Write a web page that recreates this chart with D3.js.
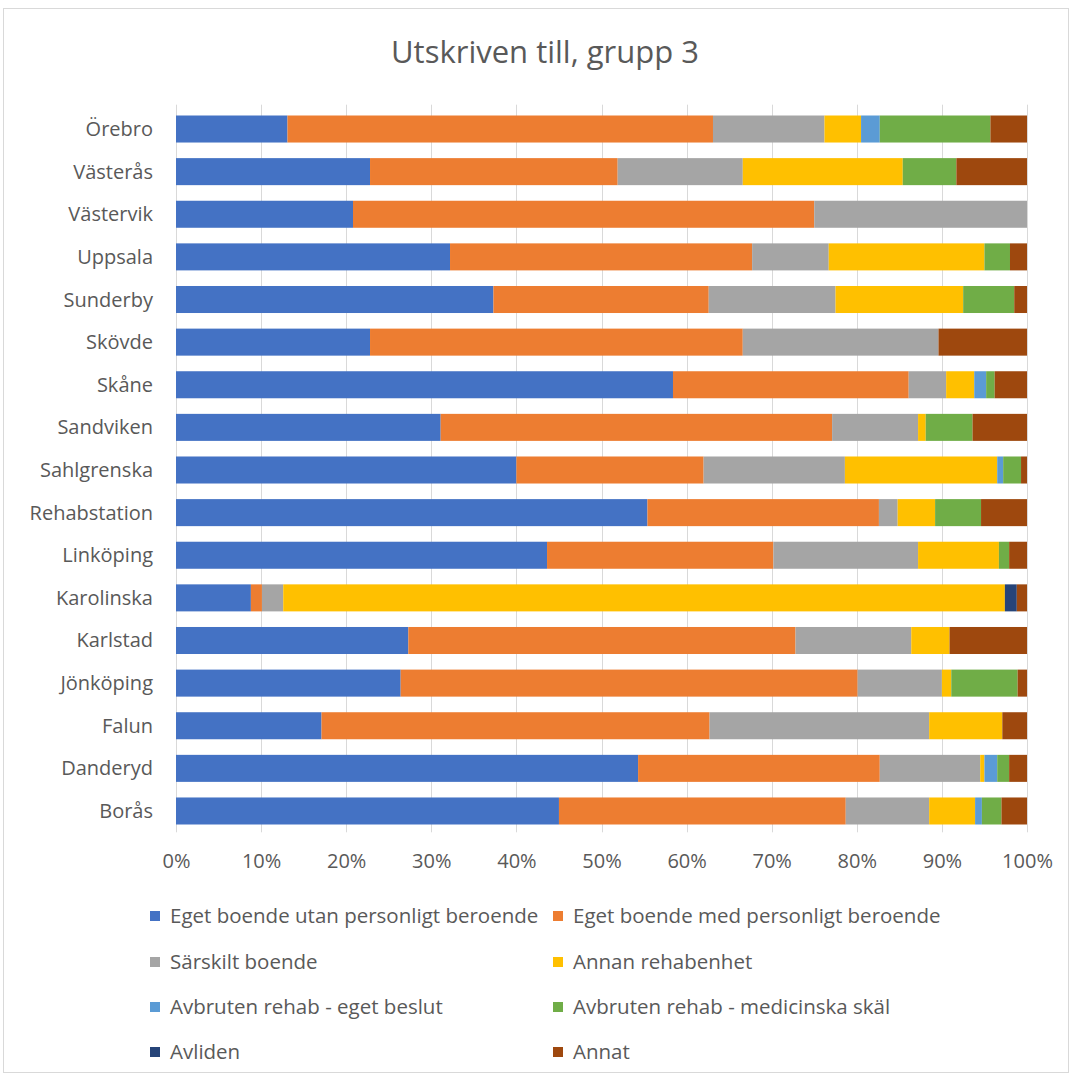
<!DOCTYPE html>
<html><head><meta charset="utf-8">
<script src="https://cdn.jsdelivr.net/npm/d3@7"></script>
<style>body{margin:0;background:#fff}svg{display:block}text{font-family:"Open Sans",sans-serif;fill:#595959}</style>
</head><body><svg id="c" width="1072" height="1079"></svg>
<script>
const categories = ["Örebro","Västerås","Västervik","Uppsala","Sunderby","Skövde","Skåne","Sandviken","Sahlgrenska","Rehabstation","Linköping","Karolinska","Karlstad","Jönköping","Falun","Danderyd","Borås"];
const seriesNames = ["Eget boende utan personligt beroende","Eget boende med personligt beroende","Särskilt boende","Annan rehabenhet","Avbruten rehab - eget beslut","Avbruten rehab - medicinska skäl","Avliden","Annat"];
const egetUtan   = [13.1,22.8,20.8,32.2,37.3,22.8,58.4,31.1,40.0,55.4,43.6,8.8,27.3,26.4,17.1,54.3,45.0];
const egetMed    = [50.0,29.1,54.2,35.5,25.3,43.8,27.7,46.0,22.0,27.2,26.6,1.3,45.5,53.7,45.6,28.4,33.7];
const sarskilt   = [13.1,14.7,25.0,9.0,14.9,23.0,4.4,10.1,16.6,2.2,17.0,2.5,13.6,9.9,25.8,11.8,9.8];
const annanRehab = [4.3,18.8,0,18.3,15.0,0,3.3,0.9,17.9,4.4,9.5,84.8,4.5,1.1,8.6,0.5,5.4];
const avbrEget   = [2.2,0,0,0,0,0,1.4,0,0.7,0,0,0,0,0,0,1.5,0.8];
const avbrMed    = [13.0,6.3,0,3.0,6.0,0,1.0,5.5,2.1,5.4,1.2,0,0,7.8,0,1.4,2.3];
const avliden    = [0,0,0,0,0,0,0,0,0,0,0,1.4,0,0,0,0,0];
const annat      = [4.3,8.3,0,2.0,1.5,10.4,3.8,6.4,0.7,5.4,2.1,1.2,9.1,1.1,2.9,2.1,3.0];
const tickLabels = ["0%","10%","20%","30%","40%","50%","60%","70%","80%","90%","100%"];
const colors = ["#4472C4","#ED7D31","#A5A5A5","#FFC000","#5B9BD5","#70AD47","#264478","#9E480E"];

const seriesValues = [egetUtan,egetMed,sarskilt,annanRehab,avbrEget,avbrMed,avliden,annat];
const keys = seriesNames;
const rows = categories.map((c,i)=>{
  const r = {cat:c};
  const total = d3.sum(seriesValues, s=>s[i]);
  keys.forEach((k,j)=> r[k] = seriesValues[j][i] / total);
  return r;
});
const stack = d3.stack().keys(keys)(rows);

const svg = d3.select("#c");
svg.append("rect").attr("x",3.5).attr("y",8.5).attr("width",1065).attr("height",1064)
  .attr("fill","#fff").attr("stroke","#d9d9d9");

svg.append("text").attr("x",545).attr("y",63).attr("text-anchor","middle")
  .style("font-size","31px").text("Utskriven till, grupp 3");

const pLeft=176, pRight=1027, pTop=107.7, pBottom=832.3;
const x = d3.scaleLinear().domain([0,1]).range([pLeft,pRight]);
const y = d3.scaleBand().domain(categories).range([pTop,pBottom]).paddingInner(0.366).paddingOuter(0.183);

// gridlines
svg.append("g").selectAll("line").data(d3.range(0,1.0001,0.1)).join("line")
  .attr("x1",d=>Math.round(x(d))+0.5).attr("x2",d=>Math.round(x(d))+0.5)
  .attr("y1",pTop-3).attr("y2",pBottom).attr("stroke","#d9d9d9").attr("stroke-width",1);

svg.append("g").selectAll("g").data(stack).join("g").attr("fill",(d,i)=>colors[i])
  .selectAll("rect").data(d=>d).join("rect")
  .attr("x",d=>x(d[0])).attr("width",d=>Math.max(0,x(d[1])-x(d[0])))
  .attr("y",d=>y(d.data.cat)).attr("height",y.bandwidth());

// x axis labels
const xAxis = d3.axisBottom(x).tickValues(d3.range(0,1.0001,0.1)).tickFormat((d,i)=>tickLabels[i]).tickSize(0).tickPadding(0);
const gx = svg.append("g").attr("transform",`translate(0,${pBottom})`).call(xAxis);
gx.select(".domain").remove();
gx.selectAll("text").attr("y",36).attr("dy",0).style("font-size","20px").attr("fill","#595959");

// y axis labels
const yAxis = d3.axisLeft(y).tickSize(0).tickPadding(0);
const gy = svg.append("g").attr("transform",`translate(153,0)`).call(yAxis);
gy.select(".domain").remove();
gy.selectAll("text").attr("x",0).attr("dy","0.35em").style("font-size","20px").attr("fill","#595959");

// legend
const legX=[150,553], legY=[916,962,1007,1052];
const lg = svg.append("g").selectAll("g").data(seriesNames).join("g")
  .attr("transform",(d,i)=>`translate(${legX[i%2]},${legY[Math.floor(i/2)]})`);
lg.append("rect").attr("x",0).attr("y",-5).attr("width",10).attr("height",10).attr("fill",(d,i)=>colors[i]);
lg.append("text").attr("x",20).attr("dy","0.35em").style("font-size","20.5px").text(d=>d);
</script></body></html>
